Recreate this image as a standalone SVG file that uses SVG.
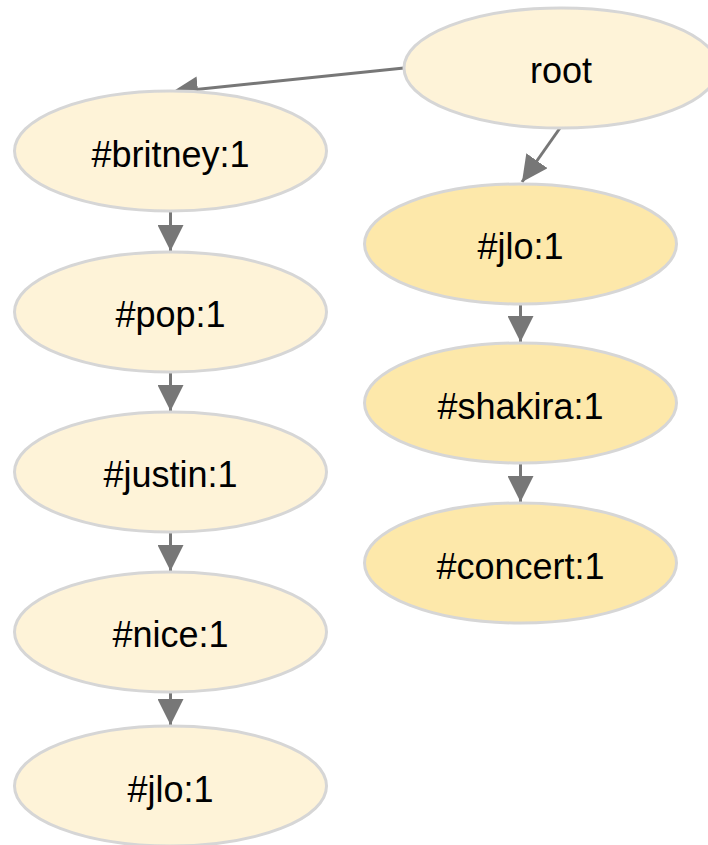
<svg xmlns="http://www.w3.org/2000/svg" width="708" height="845" viewBox="0 0 708 845">
  <defs>
    <marker id="arrow" viewBox="0 0 10 10" refX="10" refY="5" markerWidth="26" markerHeight="26" markerUnits="userSpaceOnUse" orient="auto">
      <path d="M0,0 L10,5 L0,10 z" fill="#777777"/>
    </marker>
    <style>
      .node ellipse { stroke: #d6d6d6; stroke-width: 3; }
      .plain ellipse { fill: #fef3d8; }
      .hot ellipse { fill: #fde8aa; }
      .node text { font-family: "Liberation Sans", Arial, sans-serif; font-size: 36px; fill: #000000; text-anchor: middle; }
      .edges line { stroke: #777777; stroke-width: 3; marker-end: url(#arrow); }
    </style>
  </defs>
  <rect width="708" height="845" fill="#ffffff"/>

  <g class="edges" id="edges">
    <line x1="404" y1="68" x2="172" y2="92"/>
    <line x1="560" y1="128" x2="522" y2="182"/>
    <line x1="170.5" y1="211" x2="170.5" y2="251"/>
    <line x1="170.5" y1="372" x2="170.5" y2="411"/>
    <line x1="170.5" y1="532" x2="170.5" y2="571"/>
    <line x1="170.5" y1="692" x2="170.5" y2="725"/>
    <line x1="520.5" y1="304" x2="520.5" y2="342"/>
    <line x1="520.5" y1="463" x2="520.5" y2="502"/>
  </g>

  <g id="root" class="node plain">
    <ellipse cx="561" cy="68" rx="157" ry="60"/>
    <text x="561" y="83">root</text>
  </g>
  <g id="britney" class="node plain">
    <ellipse cx="170.5" cy="151" rx="156" ry="60"/>
    <text x="170.5" y="167">#britney:1</text>
  </g>
  <g id="pop" class="node plain">
    <ellipse cx="170.5" cy="312" rx="156" ry="60"/>
    <text x="170.5" y="327">#pop:1</text>
  </g>
  <g id="justin" class="node plain">
    <ellipse cx="170.5" cy="472" rx="156" ry="60"/>
    <text x="170.5" y="487">#justin:1</text>
  </g>
  <g id="nice" class="node plain">
    <ellipse cx="170.5" cy="632" rx="156" ry="60"/>
    <text x="170.5" y="647">#nice:1</text>
  </g>
  <g id="jlo-left" class="node plain">
    <ellipse cx="170.5" cy="786" rx="156" ry="60"/>
    <text x="170.5" y="802">#jlo:1</text>
  </g>
  <g id="jlo-right" class="node hot">
    <ellipse cx="520.5" cy="244" rx="156" ry="60"/>
    <text x="520.5" y="259">#jlo:1</text>
  </g>
  <g id="shakira" class="node hot">
    <ellipse cx="520.5" cy="403" rx="156" ry="60"/>
    <text x="520.5" y="419">#shakira:1</text>
  </g>
  <g id="concert" class="node hot">
    <ellipse cx="520.5" cy="563" rx="156" ry="60"/>
    <text x="520.5" y="579">#concert:1</text>
  </g>
</svg>
